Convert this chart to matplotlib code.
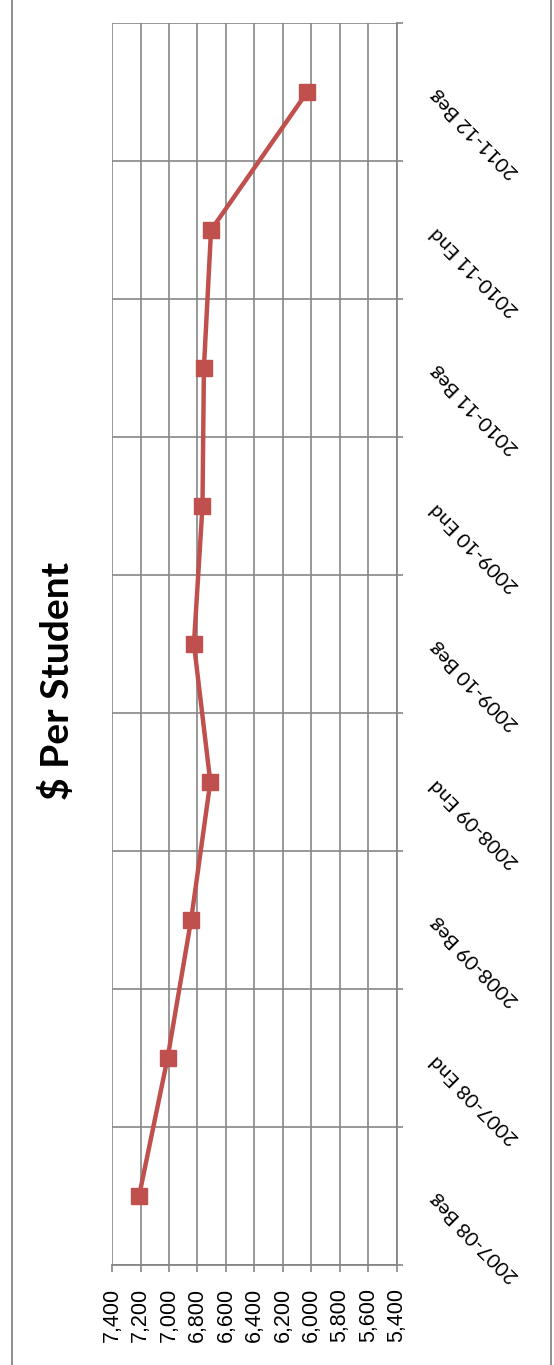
import matplotlib
matplotlib.use('Agg')
import matplotlib.pyplot as plt
import numpy as np
from matplotlib.lines import Line2D

# 数据 (从下到上)
categories = ['2007-08 Beg', '2007-08 End', '2008-09 Beg', '2008-09 End',
              '2009-10 Beg', '2009-10 End', '2010-11 Beg', '2010-11 End',
              '2011-12 Beg']
per_student = [7210, 7010, 6845, 6710, 6825, 6765, 6755, 6705, 6030]
value_ticks = [7400, 7200, 7000, 6800, 6600, 6400, 6200, 6000, 5800, 5600, 5400]
value_labels = ['{:,}'.format(v) for v in value_ticks]

red = '#C0504D'
gray = '#868686'

fig = plt.figure(figsize=(5.54, 13.65), dpi=100)
ax = fig.add_axes([112/554, 1 - 1265/1365, (397 - 112)/554, (1265 - 23)/1365])

ypos = np.arange(len(categories)) + 0.5
ax.plot(per_student, ypos, '-', color=red, lw=3.2, marker='s', ms=12,
        mfc=red, mec=red, zorder=3)

ax.set_xlim(7400, 5400)  # 反向数值轴
ax.set_ylim(0, len(categories))

ax.set_xticks(value_ticks)
ax.set_xticklabels(value_labels, rotation=90, fontsize=15.5,
                   family='Liberation Sans')
ax.tick_params(axis='x', direction='out', length=5, width=1.2, color=gray,
               pad=11.5)

# 分类轴在右侧
ax.yaxis.tick_right()
ax.set_yticks(ypos)
ax.set_yticklabels(categories, fontsize=14.5, family='Lato')
ax.set_yticks(np.arange(len(categories) + 1), minor=True)
ax.tick_params(axis='y', which='major', length=0, pad=26)
ax.tick_params(axis='y', which='minor', direction='out', length=4.5, width=1.2,
               color=gray, right=True, left=False)
for lab in ax.get_yticklabels():
    lab.set_rotation(135)
    lab.set_rotation_mode('anchor')
    lab.set_ha('right')
    lab.set_va('center')

ax.grid(axis='x', which='major', color=gray, lw=1.2)
ax.grid(axis='y', which='minor', color=gray, lw=1.2)
ax.set_axisbelow(True)

for s in ['left', 'top']:
    ax.spines[s].set_visible(False)
for s in ['bottom', 'right']:
    ax.spines[s].set_color(gray)
    ax.spines[s].set_linewidth(1.3)

fig.text(57/554, 1 - 681/1365, '$ Per Student', rotation=90, ha='center',
         va='center', fontsize=28, fontweight='bold', family='Lato')

# 图表外框 (左右两条竖线)
for xf in (12/554, 551/554):
    fig.add_artist(Line2D([xf, xf], [0, 1], color=gray, lw=1.3,
                          transform=fig.transFigure))

fig.savefig('out.png', dpi=100)
